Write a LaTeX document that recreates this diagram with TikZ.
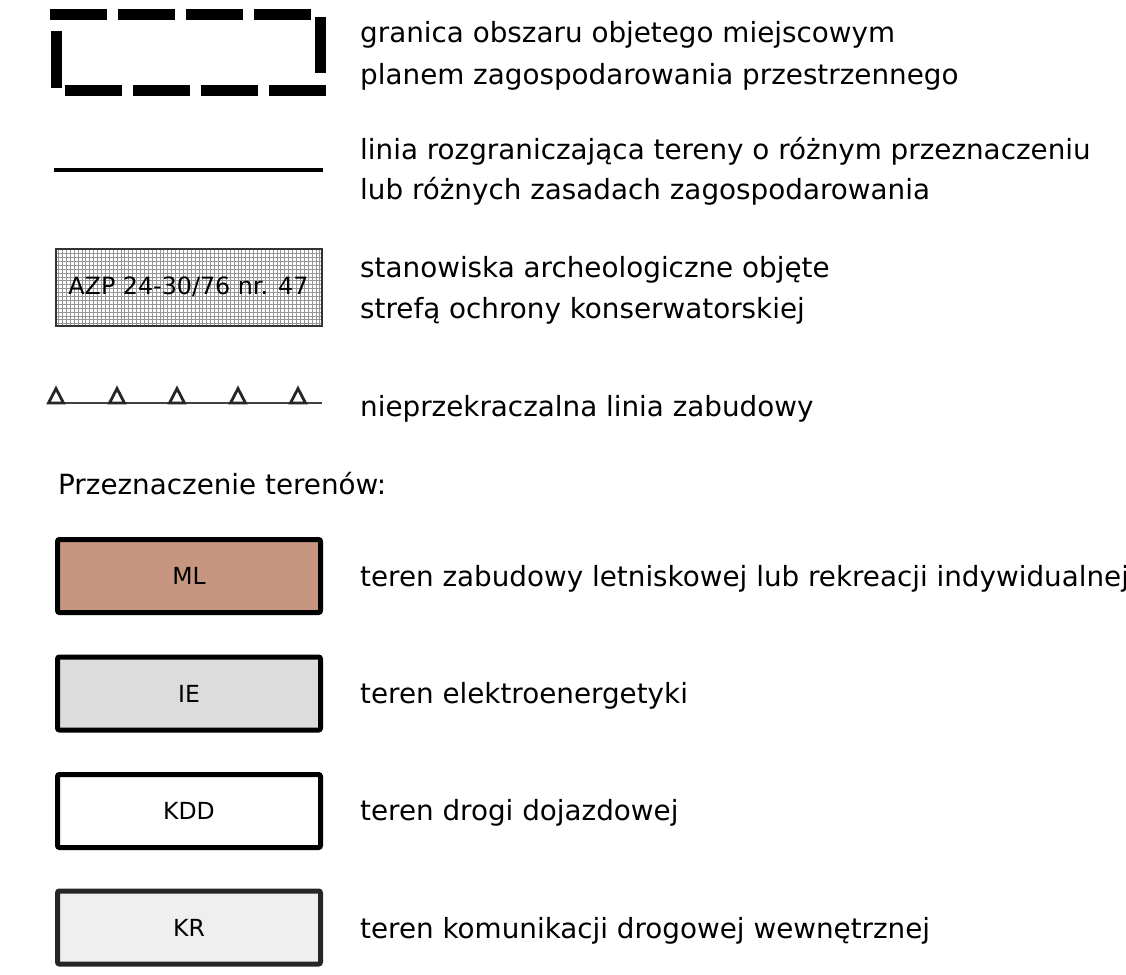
\documentclass[tikz,border=0pt]{standalone}
\usepackage{fontspec}
\setmainfont{DejaVu Sans}
\definecolor{mlfill}{RGB}{198,150,129}
\definecolor{iefill}{RGB}{220,220,220}
\definecolor{krfill}{RGB}{239,239,239}
\definecolor{gridcol}{RGB}{150,150,150}
\begin{document}
\begin{tikzpicture}[x=1pt,y=-1pt,
  legtext/.style={anchor=base west,inner sep=0pt,font=\fontsize{27.8}{32}\selectfont},
  boxlabel/.style={font=\fontsize{23.5}{28}\selectfont},
  landbox/.style={draw=black,line width=5pt,rounded corners=2pt,minimum width=263pt,minimum height=73pt,inner sep=0pt},
  bnd/.style={line width=11pt,dash pattern=on 57pt off 11pt},
  tri/.style={draw=black!85,line width=2.8pt,line join=miter}
]
\useasboundingbox (0,0) rectangle (1126,974);
\clip (0,0) rectangle (1126,974);
% boundary of plan area
\coordinate (bt1) at (50,15);   \coordinate (bt2) at (311,15);
\coordinate (br1) at (320.5,17); \coordinate (br2) at (320.5,73);
\coordinate (bb1) at (65,90.5); \coordinate (bb2) at (326,90.5);
\coordinate (bl1) at (56.5,31); \coordinate (bl2) at (56.5,88);
\draw[bnd] (bt1) -- (bt2);
\draw[bnd] (br1) -- (br2);
\draw[bnd] (bb1) -- (bb2);
\draw[bnd] (bl1) -- (bl2);
\node[legtext] (t1a) at (360,42.5) {granica obszaru objetego miejscowym};
\node[legtext] (t1b) at (360,84.5) {planem zagospodarowania przestrzennego};
% dividing line
\coordinate (l1) at (54,170); \coordinate (l2) at (323,170);
\draw[line width=4.5pt] (l1) -- (l2);
\node[legtext] (t2a) at (360,159.5) {linia rozgraniczająca tereny o różnym przeznaczeniu};
\node[legtext] (t2b) at (360,199.5) {lub różnych zasadach zagospodarowania};
% archaeological sites
\begin{scope}
\clip (56,249) rectangle (321,325);
\fill[white] (56,249) rectangle (321,325);
\draw[gridcol,line width=0.7pt,step=3.9pt] (56,249) grid (321,325);
\end{scope}
\node[draw=black!80,line width=2pt,minimum width=266pt,minimum height=77pt,inner sep=0pt,font=\fontsize{23.8}{28}\selectfont] (azp) at (188.5,287) {AZP 24-30/76 nr. 47};
\node[legtext] (t3a) at (360,277.5) {stanowiska archeologiczne objęte};
\node[legtext] (t3b) at (360,318.5) {strefą ochrony konserwatorskiej};
% building line
\coordinate (n1) at (48,403); \coordinate (n2) at (322,403);
\draw[black!75,line width=1.6pt] (n1) -- (n2);
\foreach \cx in {56,117,177,238,298}{
  \draw[tri] (\cx-7.5,403) -- (\cx,388.5) -- (\cx+7.5,403) -- cycle;
}
\node[legtext] (t4) at (360,416.5) {nieprzekraczalna linia zabudowy};
% heading
\node[legtext] (h) at (58,494.5) {Przeznaczenie terenów:};
% land use boxes
\node[landbox,fill=mlfill,boxlabel] (ml) at (189,576) {ML};
\node[legtext] (t5) at (360,586.5) {teren zabudowy letniskowej lub rekreacji indywidualnej};
\node[landbox,fill=iefill,boxlabel] (ie) at (189,693.5) {IE};
\node[legtext] (t6) at (360,703.5) {teren elektroenergetyki};
\node[landbox,fill=white,boxlabel] (kdd) at (189,811) {KDD};
\node[legtext] (t7) at (360,820.5) {teren drogi dojazdowej};
\node[landbox,draw=black!85,fill=krfill,boxlabel] (kr) at (189,927.5) {KR};
\node[legtext] (t8) at (360,938.5) {teren komunikacji drogowej wewnętrznej};
\end{tikzpicture}
\end{document}
